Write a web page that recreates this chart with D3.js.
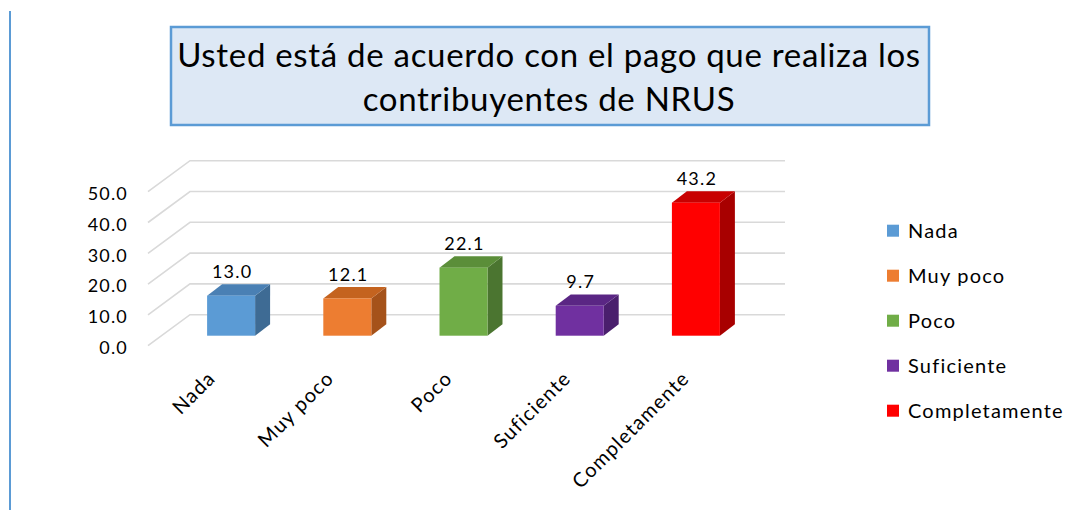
<!DOCTYPE html>
<html><head><meta charset="utf-8">
<script src="https://cdn.jsdelivr.net/npm/d3@7"></script>
<style>
html,body{margin:0;padding:0;background:#fff;}
svg{display:block;font-family:Lato,"Noto Sans",sans-serif;}
</style></head>
<body>
<svg id="chart" width="1077" height="510"></svg>
<script>
const titleLines = ["Usted está de acuerdo con el pago que realiza los", "contribuyentes de NRUS"];
const categories = ["Nada", "Muy poco", "Poco", "Suficiente", "Completamente"];
const values = [13.0, 12.1, 22.1, 9.7, 43.2];
const yTicks = [0, 10, 20, 30, 40, 50];
const frontColors = ["#5b9bd5", "#ed7d31", "#70ad47", "#7030a0", "#ff0000"];
const topColors   = ["#4a80b4", "#c4631f", "#5b8e39", "#5a2684", "#c80000"];
const sideColors  = ["#3e6b94", "#a5521a", "#4b7530", "#4a1f6d", "#a80000"];

const svg = d3.select("#chart");

// left border line
svg.append("line").attr("x1",10).attr("x2",10).attr("y1",11).attr("y2",510)
  .attr("stroke","#5b9bd5").attr("stroke-width",2);

// title box
svg.append("rect").attr("x",171).attr("y",27).attr("width",758).attr("height",98)
  .attr("fill","#dde8f5").attr("stroke","#5b9bd5").attr("stroke-width",2.5);
svg.append("g").selectAll("text").data(titleLines).join("text")
  .attr("x",549).attr("y",(d,i)=>67+i*44)
  .attr("text-anchor","middle").attr("font-size",33).attr("letter-spacing",0.7).attr("fill","#000")
  .text(d=>d);

// scales
const yBack = d3.scaleLinear().domain([0,50]).range([314.7,160.7]);
const depth = {dx:-42, dy:31};       // back wall -> front edge of side wall
const wallX0 = 190, wallX1 = 785;
const barFrontDy = 21;               // bar front face offset from back wall
const barDepth = {dx:15, dy:-11.4};

const x = d3.scaleBand().domain(categories).range([173,754]).paddingInner(0.587).paddingOuter(0.2935);
const xLab = d3.scaleBand().domain(categories).range([146.75,739.25]);

// gridlines
const grid = svg.append("g").attr("stroke","#d9d9d9").attr("stroke-width",1.6).attr("fill","none");
yTicks.forEach(t=>{
  const yb = yBack(t);
  grid.append("path").attr("d",`M${wallX0+depth.dx},${yb+depth.dy}L${wallX0},${yb}L${wallX1},${yb}`);
});

// y labels
svg.append("g").selectAll("text").data(yTicks).join("text")
  .attr("x",128).attr("y",d=>yBack(d)+depth.dy+2)
  .attr("dy","0.35em").attr("text-anchor","end").attr("font-size",18).attr("letter-spacing",1.2).attr("fill","#000")
  .text(d=>d.toFixed(1));

// bars
const bars = svg.append("g");
categories.forEach((c,i)=>{
  const x0 = x(c), w = x.bandwidth();
  const y0 = yBack(0)+barFrontDy, y1 = yBack(values[i])+barFrontDy;
  const dx = barDepth.dx, dy = barDepth.dy;
  const g = bars.append("g");
  g.append("path").attr("d",`M${x0+w},${y1}L${x0+w+dx},${y1+dy}L${x0+w+dx},${y0+dy}L${x0+w},${y0}Z`).attr("fill",sideColors[i]);
  g.append("path").attr("d",`M${x0},${y1}L${x0+dx},${y1+dy}L${x0+w+dx},${y1+dy}L${x0+w},${y1}Z`).attr("fill",topColors[i]);
  g.append("rect").attr("x",x0).attr("y",y1).attr("width",w).attr("height",y0-y1).attr("fill",frontColors[i]);
  g.append("text").attr("x",x0+w/2+1).attr("y",y1+dy-6).attr("text-anchor","middle")
    .attr("font-size",18).attr("letter-spacing",1.2).attr("fill","#000").text(values[i].toFixed(1));
});

// category labels
svg.append("g").selectAll("text").data(categories).join("text")
  .attr("transform",d=>`translate(${xLab(d)+xLab.bandwidth()/2},369) rotate(-45)`)
  .attr("text-anchor","end").attr("dy","0.75em").attr("font-size",20).attr("letter-spacing",1.2).attr("fill","#000")
  .text(d=>d);

// legend
const leg = svg.append("g").selectAll("g").data(categories).join("g")
  .attr("transform",(d,i)=>`translate(887,${230.7+i*45})`);
leg.append("rect").attr("x",0).attr("y",-6).attr("width",12).attr("height",12).attr("fill",(d,i)=>frontColors[i]);
leg.append("text").attr("x",21).attr("dy","0.36em").attr("font-size",20).attr("letter-spacing",1.2).attr("fill","#000").text(d=>d);
</script>
</body></html>
